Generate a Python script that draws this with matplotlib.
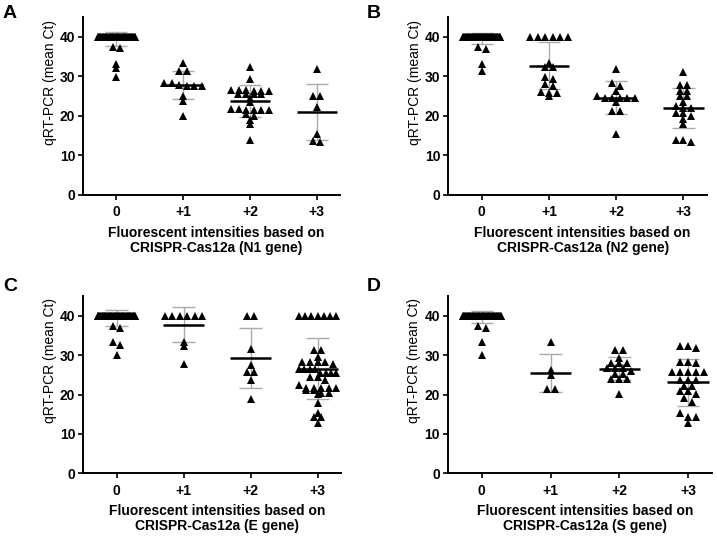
import matplotlib
matplotlib.use('Agg')
import matplotlib.pyplot as plt
import numpy as np

plt.rcParams['font.family'] = ['Liberation Sans', 'DejaVu Sans']

groups = ['0', '+1', '+2', '+3']
panel_letters = ['A', 'B', 'C', 'D']
genes = ['N1 gene', 'N2 gene', 'E gene', 'S gene']

# Ct values per fluorescence group (0, +1, +2, +3) for each gene
n1_vals = [
    [40.0] * 70 + [37.2, 37.4, 33.2, 32.2, 29.9],
    [33.4, 31.3, 31.3, 28.2, 27.6, 27.5, 27.5, 27.8, 28.2, 25.1, 23.7, 20.0],
    [32.3, 29.3, 26.6, 26.6, 26.4, 26.4, 26.6, 26.4, 25.6, 25.6, 25.6, 25.6,
     24.5, 23.5, 21.5, 21.5, 21.8, 21.5, 21.5, 21.8, 20.4, 20.0, 19.0, 17.9, 14.0],
    [31.8, 25.0, 25.0, 22.3, 15.3, 13.3, 13.6],
]
n2_vals = [
    [40.0] * 70 + [37.3, 36.9, 33.1, 31.3],
    [40.0] * 6 + [33.4, 32.4, 32.4, 29.7, 29.3, 28.0, 27.6, 26.1, 25.7, 25.7, 25.0],
    [31.8, 28.2, 27.6, 26.3, 25.0, 24.6, 24.6, 24.6, 24.6, 24.4, 23.6, 21.3, 21.3, 15.4],
    [31.2, 27.8, 27.8, 26.4, 26.4, 25.1, 25.1, 23.6, 22.5, 22.1, 22.1, 20.6, 20.6,
     20.0, 19.1, 17.9, 13.8, 13.8, 13.3],
]
e_vals = [
    [40.0] * 70 + [37.0, 37.4, 33.2, 32.5, 29.9],
    [40.0] * 6 + [33.4, 32.4, 27.7],
    [40.0, 40.0, 31.6, 27.6, 25.6, 25.6, 23.7, 18.9],
    [40.0] * 7 + [31.4, 31.2, 29.4, 28.3, 28.3, 28.3, 28.3, 27.7, 26.4, 26.4, 26.4,
                  26.4, 25.5, 25.5, 25.5, 25.5, 24.5, 24.5, 23.7, 22.4, 21.6, 21.6,
                  21.6, 21.6, 21.6, 21.2, 21.2, 20.3, 20.3, 20.1, 17.9, 15.2, 14.2,
                  14.2, 12.8],
]
s_vals = [
    [40.0] * 70 + [37.0, 37.4, 33.2, 29.9],
    [33.4, 26.2, 25.0, 21.5, 21.5],
    [31.4, 31.4, 29.2, 28.1, 28.1, 28.1, 26.6, 26.6, 26.6, 26.0, 25.2, 25.2,
     24.0, 24.0, 24.0, 20.1],
    [32.3, 31.8, 32.3, 28.3, 28.3, 27.9, 25.8, 25.8, 25.8, 25.8, 25.8, 23.7, 23.7,
     23.7, 22.2, 22.2, 21.0, 21.0, 20.1, 19.0, 18.2, 15.2, 14.4, 14.4, 12.7],
]

# mean and SD
n1_mean = [39.5, 27.7, 23.7, 20.9]
n1_sd = [1.75, 3.55, 4.0, 7.1]
n2_mean = [39.6, 32.7, 24.6, 22.0]
n2_sd = [1.45, 6.0, 4.1, 5.1]
e_mean = [39.4, 37.7, 29.2, 26.5]
e_sd = [2.1, 4.4, 7.6, 7.75]
s_mean = [39.7, 25.5, 26.5, 23.1]
s_sd = [1.6, 4.8, 2.9, 5.9]

all_vals = [n1_vals, n2_vals, e_vals, s_vals]
all_mean = [n1_mean, n2_mean, e_mean, s_mean]
all_sd = [n1_sd, n2_sd, e_sd, s_sd]


def swarm_offsets(vals, step=0.115, bin_h=1.0, max_half=0.28):
    # simple row-based beeswarm, rows centred like Prism
    vals = np.asarray(vals)
    order = np.argsort(-vals, kind='stable')
    offs = np.zeros(len(vals))
    rows = []
    cur = [order[0]]
    for i in order[1:]:
        if vals[cur[0]] - vals[i] < bin_h:
            cur.append(i)
        else:
            rows.append(cur)
            cur = [i]
    rows.append(cur)
    for r in rows:
        n = len(r)
        s = step if (n - 1) * step <= 2 * max_half else 2 * max_half / (n - 1)
        offs[r] = (np.arange(n) - (n - 1) / 2) * s
    return offs


W, H = 717, 537
fig = plt.figure(figsize=(W / 100, H / 100), dpi=100)

# axes boxes in pixels: left, right, top(=45), bottom(=0)
boxes = [(83, 340, 16.9, 195), (448, 707, 16.9, 195),
         (83, 341, 296, 473.3), (447.5, 712, 296, 473.3)]
letter_pos = [(3, 5), (367, 5), (3, 278), (367, 278)]

for k in range(4):
    l, r, t, b = boxes[k]
    ax = fig.add_axes([l / W, 1 - b / H, (r - l) / W, (b - t) / H])
    for i in range(4):
        vals = np.array(all_vals[k][i])
        m, sd = all_mean[k][i], all_sd[k][i]
        ax.vlines(i, m - sd, m + sd, color='#ababab', lw=1.0, zorder=1)
        ax.hlines([m - sd, m + sd], i - 0.165, i + 0.165, color='#ababab', lw=1.0, zorder=1)
        ax.plot(i + swarm_offsets(vals), vals, ls='none', marker='^', color='black',
                ms=5.8, mew=0, zorder=3)
        ax.hlines(m, i - 0.3, i + 0.3, color='black', lw=1.8, zorder=2)

    ax.set_xlim(-0.5, 3.35)
    ax.set_ylim(0, 45)
    ax.set_yticks([0, 10, 20, 30, 40])
    ax.set_xticks(range(4))
    ax.set_xticklabels(groups, fontsize=10, fontweight='bold')
    for lab in ax.get_yticklabels():
        lab.set_fontsize(10)
        lab.set_fontweight('bold')
    ax.spines['top'].set_visible(False)
    ax.spines['right'].set_visible(False)
    ax.spines['left'].set_linewidth(1.4)
    ax.spines['bottom'].set_linewidth(1.4)
    ax.tick_params(axis='both', length=3.5, width=1.2, pad=2)
    ax.tick_params(axis='x', pad=4)

    ax.set_ylabel('qRT-PCR (mean Ct)', fontsize=10)
    ax.yaxis.set_label_coords(-0.10, 0.634)
    ax.set_xlabel('Fluorescent intensities based on\nCRISPR-Cas12a (' + genes[k] + ')',
                  fontsize=10, fontweight='bold', linespacing=1.05)
    ax.xaxis.set_label_coords(0.52, -0.175)
    ax.xaxis.label.set_va('top')

    lx, ly = letter_pos[k]
    fig.text(lx / W, 1 - ly / H, panel_letters[k], fontsize=14, fontweight='bold',
             ha='left', va='top')

fig.savefig('out.png', dpi=100)
